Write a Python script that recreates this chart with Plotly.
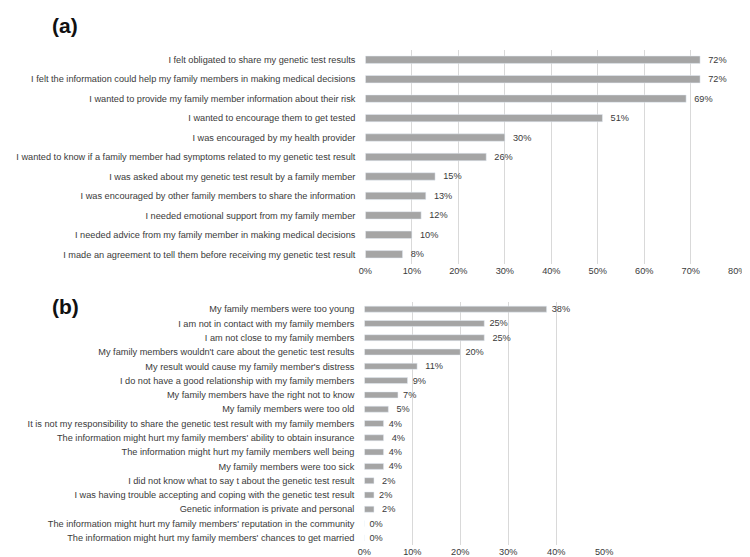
import plotly.graph_objects as go

# panel (a): reasons for sharing
reasons_share = [
    "I felt obligated to share my genetic test results",
    "I felt the information could help my family members in making medical decisions",
    "I wanted to provide my family member information about their risk",
    "I wanted to encourage them to get tested",
    "I was encouraged by my health provider",
    "I wanted to know if a family member had symptoms related to my genetic test result",
    "I was asked about my genetic test result by a family member",
    "I was encouraged by other family members to share the information",
    "I needed emotional support from my family member",
    "I needed advice from my family member in making medical decisions",
    "I made an agreement to tell them before receiving my genetic test result",
]
pct_share = [72, 72, 69, 51, 30, 26, 15, 13, 12, 10, 8]

# panel (b): reasons for not sharing
reasons_not_share = [
    "My family members were too young",
    "I am not in contact with my family members",
    "I am not close to my family members",
    "My family members wouldn't care about the genetic test results",
    "My result would cause my family member's distress",
    "I do not have a good relationship with my family members",
    "My family members have the right not to know",
    "My family members were too old",
    "It is not my responsibility to share the genetic test result with my family members",
    "The information might hurt my family members' ability to obtain insurance",
    "The information might hurt my family members well being",
    "My family members were too sick",
    "I did not know what to say t about the genetic test result",
    "I was having trouble accepting and coping with the genetic test result",
    "Genetic information is private and personal",
    "The information might hurt my family members' reputation in the community",
    "The information might hurt my family members' chances to get married",
]
pct_not_share = [38, 25, 25, 20, 11, 9, 7, 5, 4, 4, 4, 4, 2, 2, 2, 0, 0]

ticks_a = [0, 10, 20, 30, 40, 50, 60, 70, 80]
ticks_b = [0, 10, 20, 30, 40, 50]

BAR_COLOR = "#a5a5a5"
TEXT_COLOR = "#3a3a3a"
GRID_COLOR = "#d9d9d9"
FONT = "Liberation Sans, Arial, sans-serif"
FSIZE = 9.2

fig = go.Figure()

fig.add_trace(go.Bar(
    x=pct_share, y=reasons_share, orientation="h",
    marker_color=BAR_COLOR, width=0.38,
    text=[f"  {v}%" for v in pct_share], textposition="outside",
    constraintext="none",
    textfont=dict(size=FSIZE, color=TEXT_COLOR), cliponaxis=False,
    xaxis="x", yaxis="y",
))
fig.add_trace(go.Bar(
    x=pct_not_share, y=reasons_not_share, orientation="h",
    marker_color=BAR_COLOR, width=0.42,
    text=[f"  {v}%" for v in pct_not_share], textposition="outside",
    constraintext="none",
    textfont=dict(size=FSIZE, color=TEXT_COLOR), cliponaxis=False,
    xaxis="x2", yaxis="y2",
))

axis_common = dict(
    showgrid=True, gridcolor=GRID_COLOR, gridwidth=1,
    zeroline=False, showline=False, ticks="",
    tickfont=dict(size=FSIZE, color=TEXT_COLOR),
)

fig.update_layout(
    width=750, height=557,
    margin=dict(l=0, r=0, t=0, b=0),
    paper_bgcolor="white", plot_bgcolor="white",
    font=dict(family=FONT, size=FSIZE, color=TEXT_COLOR),
    showlegend=False,
    xaxis=dict(
        domain=[358 / 750, 738 / 750], range=[0, 80],
        tickvals=ticks_a, ticktext=[f"{t}%" for t in ticks_a],
        anchor="y", **axis_common,
    ),
    yaxis=dict(
        domain=[1 - 256 / 557, 1 - 42 / 557], autorange="reversed",
        showgrid=False, zeroline=False, showline=False, ticks="",
        ticklabelstandoff=9, automargin=False,
        tickfont=dict(size=FSIZE, color=TEXT_COLOR), anchor="x",
    ),
    xaxis2=dict(
        domain=[357 / 750, 602 / 750], range=[0, 50],
        tickvals=ticks_b, ticktext=[f"{t}%" for t in ticks_b],
        anchor="y2", **axis_common,
    ),
    yaxis2=dict(
        domain=[1 - 537 / 557, 1 - 294 / 557], autorange="reversed",
        showgrid=False, zeroline=False, showline=False, ticks="",
        ticklabelstandoff=9, automargin=False,
        tickfont=dict(size=FSIZE, color=TEXT_COLOR), anchor="x2",
    ),
    annotations=[
        dict(text="<b>(a)</b>", x=36 / 750, y=1 - 18 / 557, xref="paper", yref="paper",
             xanchor="left", yanchor="middle", showarrow=False,
             font=dict(family="Liberation Sans, Arial, sans-serif", size=21, color="#111111")),
        dict(text="<b>(b)</b>", x=36 / 750, y=1 - 298 / 557, xref="paper", yref="paper",
             xanchor="left", yanchor="middle", showarrow=False,
             font=dict(family="Liberation Sans, Arial, sans-serif", size=21, color="#111111")),
    ],
)

fig.write_html("out.html")
